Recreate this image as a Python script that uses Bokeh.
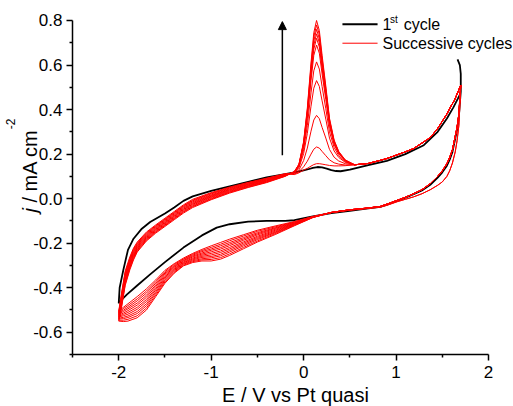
import math
from bokeh.plotting import figure
from bokeh.models import Range1d, FixedTicker, PrintfTickFormatter, Label, Arrow, NormalHead
from bokeh.embed import file_html
from bokeh.resources import INLINE

FONT = "Liberation Sans"

# ---------------- axes ----------------
x_ticks = [-2, -1, 0, 1, 2]
x_minor = [-2.5, -1.5, -0.5, 0.5, 1.5]
y_ticks = [-0.6, -0.4, -0.2, 0.0, 0.2, 0.4, 0.6, 0.8]
y_minor = [-0.7, -0.5, -0.3, -0.1, 0.1, 0.3, 0.5, 0.7]
x_axis_bounds = (-2.5, 2.0)
y_axis_bounds = (-0.7, 0.8)

# ---------------- 1st cycle (black) ----------------
black_E_rev = [1.665, 1.69, 1.70, 1.70, 1.69, 1.68, 1.66, 1.64, 1.61, 1.58, 1.55, 1.50, 1.45, 1.37, 1.28,
               1.19, 1.10, 1.01, 0.90, 0.83, 0.70, 0.50, 0.30, 0.10, -0.10, -0.20, -0.40, -0.60, -0.80,
               -0.94, -1.10, -1.30, -1.50, -1.66, -1.80, -1.91, -1.97, -2.00]
black_j_rev = [0.625, 0.60, 0.56, 0.48, 0.43, 0.37, 0.31, 0.27, 0.21, 0.175, 0.148, 0.118, 0.094, 0.062, 0.037,
               0.020, 0.004, -0.010, -0.027, -0.037, -0.044, -0.055, -0.065, -0.080, -0.097, -0.100, -0.100,
               -0.103, -0.115, -0.130, -0.165, -0.220, -0.285, -0.340, -0.390, -0.430, -0.455, -0.470]
black_E_fwd = [-2.00, -1.99, -1.95, -1.90, -1.84, -1.75, -1.66, -1.50, -1.40, -1.30, -1.20, -1.00, -0.80,
               -0.60, -0.40, -0.20, -0.10, -0.05, 0.00, 0.05, 0.10, 0.15, 0.20, 0.25, 0.30, 0.35, 0.40,
               0.50, 0.70, 0.90, 1.10, 1.30, 1.45, 1.55, 1.62, 1.67, 1.70]
black_j_fwd = [-0.470, -0.400, -0.320, -0.230, -0.180, -0.135, -0.105, -0.067, -0.040, -0.010, 0.010, 0.035,
               0.055, 0.075, 0.095, 0.110, 0.118, 0.122, 0.127, 0.132, 0.138, 0.142, 0.140, 0.135, 0.128,
               0.124, 0.123, 0.130, 0.150, 0.170, 0.200, 0.240, 0.300, 0.360, 0.410, 0.450, 0.475]

# ---------------- successive cycles (red) ----------------
E_rev_right = [1.70, 1.69, 1.68, 1.66, 1.64, 1.61, 1.58, 1.55, 1.50, 1.45, 1.37, 1.28, 1.19, 1.10, 1.01,
               0.90, 0.83, 0.70, 0.50, 0.30]
E_rev_left = [0.10, -0.10, -0.30, -0.50, -0.65, -0.80, -0.90, -1.00, -1.10, -1.20, -1.30, -1.40, -1.50,
              -1.60, -1.70, -1.80, -1.90, -1.95, -2.00]
E_fwd_left = [-1.97, -1.93, -1.88, -1.84, -1.80, -1.70, -1.60, -1.50, -1.40, -1.30, -1.20, -1.00, -0.80,
              -0.60, -0.40, -0.20]
E_fwd_peak = [-0.10, -0.05, 0.00, 0.04, 0.08, 0.11, 0.14, 0.17, 0.20, 0.24, 0.28, 0.33, 0.38, 0.45]
E_fwd_right = [0.55, 0.70, 0.83, 0.90, 1.00, 1.10, 1.19, 1.30, 1.37, 1.45, 1.55, 1.60, 1.63, 1.67, 1.70]

j_rev_right_a = [0.51, 0.45, 0.38, 0.32, 0.28, 0.22, 0.185, 0.157, 0.125, 0.100, 0.067, 0.040, 0.022, 0.006,
                 -0.008, -0.025, -0.035, -0.042, -0.050, -0.062]
j_rev_right_b = [0.51, 0.42, 0.33, 0.26, 0.21, 0.16, 0.125, 0.100, 0.075, 0.060, 0.040, 0.022, 0.008, -0.003,
                 -0.014, -0.030, -0.038, -0.044, -0.052, -0.063]
j_fwd_right = [0.152, 0.158, 0.172, 0.180, 0.195, 0.210, 0.225, 0.255, 0.274, 0.315, 0.380, 0.420, 0.440,
               0.480, 0.510]

j_rev_left_1 = [-0.080, -0.103, -0.122, -0.142, -0.162, -0.182, -0.197, -0.212, -0.228, -0.246, -0.267, -0.292, -0.322, -0.365, -0.405, -0.440, -0.472, -0.488, -0.505]
j_rev_left_2 = [-0.081, -0.105, -0.126, -0.147, -0.168, -0.189, -0.205, -0.219, -0.233, -0.250, -0.271, -0.296, -0.328, -0.373, -0.415, -0.450, -0.480, -0.494, -0.510]
j_rev_left_3 = [-0.081, -0.107, -0.130, -0.153, -0.175, -0.197, -0.212, -0.226, -0.238, -0.254, -0.274, -0.301, -0.334, -0.380, -0.424, -0.459, -0.488, -0.501, -0.514]
j_rev_left_4 = [-0.082, -0.109, -0.133, -0.158, -0.181, -0.204, -0.220, -0.232, -0.244, -0.258, -0.278, -0.305, -0.339, -0.388, -0.434, -0.469, -0.495, -0.507, -0.519]
j_rev_left_5 = [-0.082, -0.111, -0.137, -0.163, -0.187, -0.211, -0.227, -0.239, -0.249, -0.262, -0.281, -0.309, -0.345, -0.395, -0.443, -0.478, -0.503, -0.514, -0.523]
j_rev_left_6 = [-0.083, -0.113, -0.141, -0.169, -0.194, -0.219, -0.235, -0.246, -0.254, -0.267, -0.285, -0.314, -0.351, -0.403, -0.453, -0.488, -0.511, -0.520, -0.528]
j_rev_left_7 = [-0.083, -0.114, -0.145, -0.174, -0.200, -0.226, -0.242, -0.253, -0.259, -0.271, -0.288, -0.318, -0.357, -0.410, -0.462, -0.497, -0.519, -0.526, -0.532]
j_rev_left_8 = [-0.084, -0.116, -0.149, -0.179, -0.206, -0.233, -0.250, -0.260, -0.264, -0.275, -0.292, -0.322, -0.363, -0.418, -0.472, -0.507, -0.527, -0.533, -0.537]
j_rev_left_9 = [-0.084, -0.118, -0.152, -0.184, -0.212, -0.240, -0.257, -0.266, -0.270, -0.279, -0.295, -0.326, -0.368, -0.425, -0.481, -0.516, -0.534, -0.539, -0.541]
j_rev_left_10 = [-0.085, -0.120, -0.156, -0.190, -0.219, -0.248, -0.265, -0.273, -0.275, -0.283, -0.299, -0.331, -0.374, -0.433, -0.491, -0.526, -0.542, -0.546, -0.546]
j_rev_left_11 = [-0.085, -0.122, -0.160, -0.195, -0.225, -0.255, -0.272, -0.280, -0.280, -0.287, -0.302, -0.335, -0.380, -0.440, -0.500, -0.535, -0.550, -0.552, -0.550]

j_fwd_left_1 = [-0.425, -0.325, -0.262, -0.222, -0.195, -0.150, -0.118, -0.088, -0.058, -0.028, -0.003, 0.027, 0.052, 0.073, 0.092, 0.112]
j_fwd_left_2 = [-0.432, -0.332, -0.268, -0.227, -0.200, -0.154, -0.122, -0.092, -0.062, -0.032, -0.007, 0.024, 0.049, 0.071, 0.090, 0.111]
j_fwd_left_3 = [-0.438, -0.338, -0.274, -0.233, -0.204, -0.158, -0.125, -0.095, -0.065, -0.035, -0.010, 0.021, 0.047, 0.068, 0.088, 0.110]
j_fwd_left_4 = [-0.445, -0.345, -0.279, -0.238, -0.209, -0.162, -0.129, -0.099, -0.069, -0.039, -0.014, 0.017, 0.044, 0.066, 0.086, 0.108]
j_fwd_left_5 = [-0.451, -0.351, -0.285, -0.243, -0.213, -0.166, -0.133, -0.103, -0.073, -0.043, -0.018, 0.014, 0.041, 0.064, 0.084, 0.107]
j_fwd_left_6 = [-0.458, -0.358, -0.291, -0.249, -0.218, -0.170, -0.137, -0.107, -0.077, -0.047, -0.022, 0.011, 0.039, 0.062, 0.082, 0.106]
j_fwd_left_7 = [-0.464, -0.364, -0.297, -0.254, -0.222, -0.174, -0.140, -0.110, -0.080, -0.050, -0.025, 0.008, 0.036, 0.059, 0.080, 0.105]
j_fwd_left_8 = [-0.471, -0.371, -0.303, -0.259, -0.227, -0.178, -0.144, -0.114, -0.084, -0.054, -0.029, 0.005, 0.033, 0.057, 0.078, 0.104]
j_fwd_left_9 = [-0.477, -0.377, -0.308, -0.264, -0.231, -0.182, -0.148, -0.118, -0.088, -0.058, -0.033, 0.001, 0.030, 0.055, 0.076, 0.102]
j_fwd_left_10 = [-0.484, -0.384, -0.314, -0.270, -0.236, -0.186, -0.151, -0.121, -0.091, -0.061, -0.036, -0.002, 0.028, 0.052, 0.074, 0.101]
j_fwd_left_11 = [-0.490, -0.390, -0.320, -0.275, -0.240, -0.190, -0.155, -0.125, -0.095, -0.065, -0.040, -0.005, 0.025, 0.050, 0.072, 0.100]

j_fwd_peak_1 = [0.108, 0.116, 0.128, 0.136, 0.146, 0.153, 0.157, 0.157, 0.155, 0.152, 0.149, 0.147, 0.147, 0.148]
j_fwd_peak_2 = [0.110, 0.121, 0.143, 0.168, 0.200, 0.222, 0.232, 0.227, 0.212, 0.193, 0.174, 0.161, 0.155, 0.151]
j_fwd_peak_3 = [0.113, 0.129, 0.171, 0.227, 0.303, 0.353, 0.374, 0.359, 0.320, 0.272, 0.221, 0.186, 0.169, 0.157]
j_fwd_peak_4 = [0.116, 0.139, 0.202, 0.293, 0.415, 0.496, 0.530, 0.504, 0.439, 0.357, 0.272, 0.214, 0.185, 0.163]
j_fwd_peak_5 = [0.118, 0.144, 0.219, 0.328, 0.475, 0.574, 0.614, 0.582, 0.503, 0.404, 0.300, 0.230, 0.193, 0.166]
j_fwd_peak_6 = [0.119, 0.148, 0.234, 0.360, 0.530, 0.643, 0.690, 0.653, 0.560, 0.445, 0.325, 0.243, 0.201, 0.169]
j_fwd_peak_7 = [0.120, 0.150, 0.240, 0.373, 0.552, 0.671, 0.720, 0.681, 0.583, 0.462, 0.335, 0.249, 0.204, 0.170]
j_fwd_peak_8 = [0.120, 0.151, 0.244, 0.381, 0.566, 0.689, 0.740, 0.700, 0.598, 0.473, 0.341, 0.252, 0.206, 0.171]
j_fwd_peak_9 = [0.121, 0.153, 0.248, 0.389, 0.580, 0.708, 0.760, 0.718, 0.614, 0.484, 0.348, 0.256, 0.208, 0.172]
j_fwd_peak_10 = [0.121, 0.154, 0.252, 0.398, 0.595, 0.726, 0.780, 0.737, 0.629, 0.495, 0.355, 0.259, 0.210, 0.173]
j_fwd_peak_11 = [0.121, 0.155, 0.256, 0.406, 0.609, 0.745, 0.800, 0.755, 0.644, 0.506, 0.361, 0.263, 0.212, 0.174]

red_rev_left = [j_rev_left_1, j_rev_left_2, j_rev_left_3, j_rev_left_4, j_rev_left_5, j_rev_left_6,
                j_rev_left_7, j_rev_left_8, j_rev_left_9, j_rev_left_10, j_rev_left_11]
red_fwd_left = [j_fwd_left_1, j_fwd_left_2, j_fwd_left_3, j_fwd_left_4, j_fwd_left_5, j_fwd_left_6,
                j_fwd_left_7, j_fwd_left_8, j_fwd_left_9, j_fwd_left_10, j_fwd_left_11]
red_fwd_peak = [j_fwd_peak_1, j_fwd_peak_2, j_fwd_peak_3, j_fwd_peak_4, j_fwd_peak_5, j_fwd_peak_6,
                j_fwd_peak_7, j_fwd_peak_8, j_fwd_peak_9, j_fwd_peak_10, j_fwd_peak_11]
red_rev_right = [j_rev_right_b, j_rev_right_b] + [j_rev_right_a] * 9

# annotation positions (data units)
arrow_x, arrow_y0, arrow_y1 = -0.23, 0.195, 0.795
legend_line_x0, legend_line_x1 = 0.42, 0.80
legend_black_y, legend_red_y = 0.783, 0.698
legend_text_x = 0.853

# ---------------- figure ----------------
# the frame spans the whole page; the axes are pinned inside it at the plotted data limits
p = figure(width=513, height=406, x_range=Range1d(-3.2789, 2.2704), y_range=Range1d(-0.9335, 0.8898),
           output_backend="svg", toolbar_location=None,
           min_border_left=0, min_border_right=0, min_border_top=0, min_border_bottom=0)
p.title.visible = False
p.outline_line_color = None
p.xgrid.visible = False
p.ygrid.visible = False
p.background_fill_color = "white"
p.border_fill_color = "white"

p.xaxis.fixed_location = y_axis_bounds[0]
p.yaxis.fixed_location = x_axis_bounds[0]
p.xaxis.bounds = x_axis_bounds
p.yaxis.bounds = y_axis_bounds
p.xaxis.ticker = FixedTicker(ticks=x_ticks, minor_ticks=x_minor)
p.yaxis.ticker = FixedTicker(ticks=y_ticks, minor_ticks=y_minor)
p.xaxis.formatter = PrintfTickFormatter(format="%d")
p.yaxis.formatter = PrintfTickFormatter(format="%.1f")
for ax in (p.xaxis, p.yaxis):
    ax.axis_line_width = 1.5
    ax.axis_line_color = "black"
    ax.major_tick_line_width = 1.5
    ax.minor_tick_line_width = 1.5
    ax.major_tick_line_color = "black"
    ax.minor_tick_line_color = "black"
    ax.major_tick_out = 6
    ax.major_tick_in = 0
    ax.minor_tick_out = 3
    ax.minor_tick_in = 0
    ax.major_label_text_font = FONT
    ax.major_label_text_font_size = "17px"
    ax.major_label_text_color = "black"
p.xaxis.major_label_standoff = 5
p.yaxis.major_label_standoff = 4

# black 1st cycle
p.line(black_E_rev + black_E_fwd, black_j_rev + black_j_fwd, line_color="black", line_width=1.8)

# red successive cycles
E_red = E_rev_right + E_rev_left + E_fwd_left + E_fwd_peak + E_fwd_right
for k in range(11):
    j_red = red_rev_right[k] + red_rev_left[k] + red_fwd_left[k] + red_fwd_peak[k] + j_fwd_right
    p.line(E_red, j_red, line_color="#ff0000", line_width=1.0)

# arrow
p.add_layout(Arrow(end=NormalHead(size=8, fill_color="black", line_color="black", line_width=1),
                   x_start=arrow_x, y_start=arrow_y0, x_end=arrow_x, y_end=arrow_y1,
                   line_color="black", line_width=1.5))

# legend
p.add_layout(Arrow(end=None, x_start=legend_line_x0, x_end=legend_line_x1, y_start=legend_black_y,
                   y_end=legend_black_y, line_color="black", line_width=2))
p.add_layout(Arrow(end=None, x_start=legend_line_x0, x_end=legend_line_x1, y_start=legend_red_y,
                   y_end=legend_red_y, line_color="#ff0000", line_width=1))

def lab(x, y, text, size, **kw):
    p.add_layout(Label(x=x, y=y, text=text, text_font=FONT, text_font_size=size,
                       text_color="black", text_baseline="middle", **kw))

lab(legend_text_x, 0.7825, "1", "16px")
lab(0.934, 0.8067, "st", "10px")
lab(1.083, 0.7825, "cycle", "16px")
lab(legend_text_x, 0.6949, "Successive cycles", "16px")

# axis titles
lab(-0.088, -0.8819, "E / V vs Pt quasi", "20px", text_align="center")
lab(-2.965, -0.0623, "j", "20px", angle=math.pi / 2, text_font_style="italic")
lab(-2.965, -0.0174, "/ mA cm", "20px", angle=math.pi / 2)
lab(-3.173, 0.312, "-2", "12px", angle=math.pi / 2)

open("out.html", "w").write(file_html(p, INLINE))
